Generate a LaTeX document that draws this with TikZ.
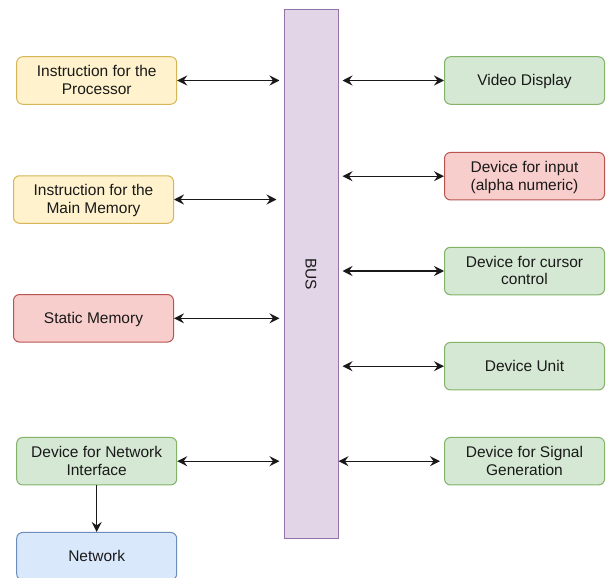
\documentclass[tikz,border=0pt]{standalone}
\usepackage{fontspec}
\setmainfont{Liberation Sans}
\usetikzlibrary{arrows.meta}
\definecolor{ylwF}{HTML}{FFF2CC}\definecolor{ylwD}{HTML}{D6B656}
\definecolor{grnF}{HTML}{D5E8D4}\definecolor{grnD}{HTML}{82B366}
\definecolor{redF}{HTML}{F8CECC}\definecolor{redD}{HTML}{B85450}
\definecolor{bluF}{HTML}{DAE8FC}\definecolor{bluD}{HTML}{6C8EBF}
\definecolor{purF}{HTML}{E1D5E7}\definecolor{purD}{HTML}{9673A6}
\tikzset{
  box/.style={draw, rounded corners=6pt, minimum width=160pt, minimum height=47.5pt,
    align=center, font=\fontsize{15.5}{17.5}\selectfont, text=black!90, line width=1pt,
    inner sep=0pt, text depth=1pt},
  ylw/.style={box, fill=ylwF, draw=ylwD},
  grn/.style={box, fill=grnF, draw=grnD},
  red/.style={box, fill=redF, draw=redD},
  blu/.style={box, fill=bluF, draw=bluD},
  link/.style={draw=black!90, line width=1.4pt, {Stealth[length=10pt,width=10pt,inset=3.5pt]}-{Stealth[length=10pt,width=10pt,inset=3.5pt]}},
  down/.style={draw=black!90, line width=1.4pt, -{Stealth[length=10pt,width=10pt,inset=3.5pt]}},
}
\begin{document}
\begin{tikzpicture}[x=1pt,y=-1pt]
\useasboundingbox (0,0) rectangle (608,578);
\fill[white] (0,0) rectangle (608,578);

% the bus
\node[draw=purD, fill=purF, line width=1pt, minimum width=54pt, minimum height=529.5pt, inner sep=0pt]
  (bus) at (311,274) {};
\node[rotate=-90, font=\fontsize{15.5}{17.5}\selectfont, text=black!90] (buslbl) at (bus.center) {BUS};

% left column
\node[ylw] (proc) at (96.7,80.5) {Instruction for the\\Processor};
\node[ylw] (mem)  at (93.5,199.5) {Instruction for the\\Main Memory};
\node[red] (stat) at (93.5,318.3) {Static Memory};
\node[grn] (nic)  at (96.7,461.2) {Device for Network\\Interface};
\node[blu] (net)  at (96.7,556.2) {Network};

% right column
\node[grn] (vid)  at (524.5,80.5)  {Video Display};
\node[red] (inp)  at (524.5,176.2) {Device for input\\(alpha numeric)};
\node[grn] (cur)  at (524.5,271)   {Device for cursor\\control};
\node[grn] (unit) at (524.5,366.2) {Device Unit};
\node[grn] (sig)  at (524.5,461.2) {Device for Signal\\Generation};

% connections to the bus
\draw[link, shorten >=4pt] (proc.east) -- (proc.east -| bus.west);
\draw[link, shorten >=7pt] (mem.east) -- (mem.east -| bus.west);
\draw[link, shorten >=4pt] (stat.east) -- (stat.east -| bus.west);
\draw[link, shorten >=4pt] (nic.east) -- (nic.east -| bus.west);

\draw[link, shorten <=4pt] (vid.west -| bus.east) -- (vid.west);
\draw[link, shorten <=4pt] (inp.west -| bus.east) -- (inp.west);
\draw[link, shorten <=4pt] (cur.west -| bus.east) -- (cur.west);
\draw[link, shorten <=4pt] (unit.west -| bus.east) -- (unit.west);
\draw[link, shorten >=4pt] (sig.west -| bus.east) -- (sig.west);

\draw[down] (nic.south) -- (net.north);
\end{tikzpicture}
\end{document}
